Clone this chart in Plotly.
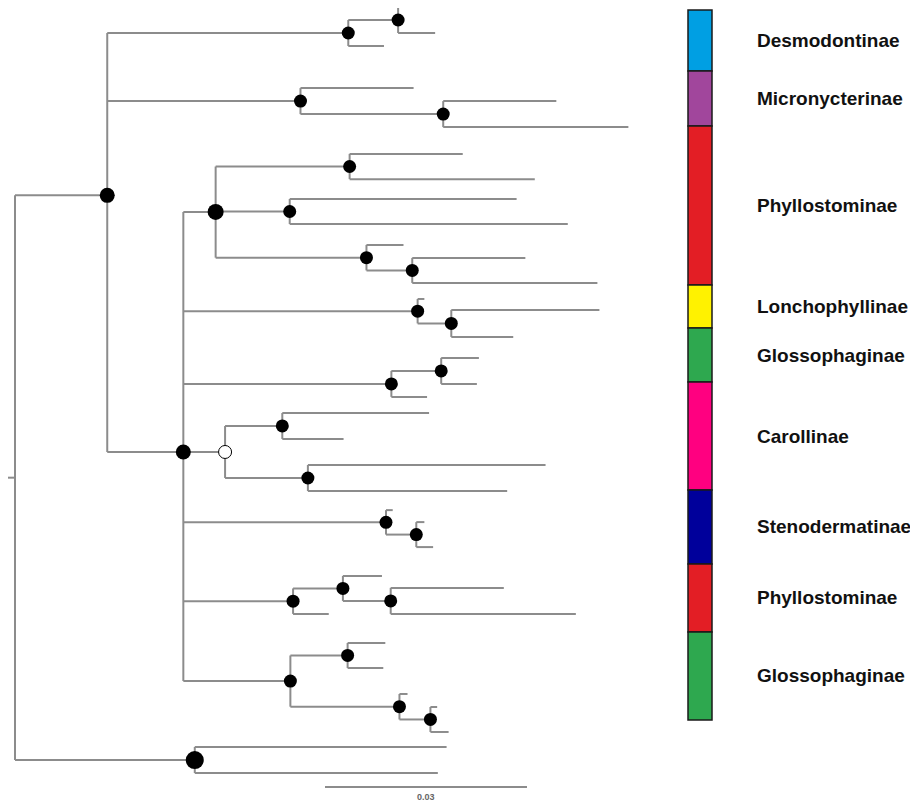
import plotly.graph_objects as go

# ---------------- data ----------------
# tree topology with branch lengths (substitutions / site)
edge_parent = ["R", "R", "N1", "N1", "N1", "D", "D2", "D2", "D", "M", "M", "M2", "M2",
               "B", "P", "Pa", "Pa", "P", "Pb", "Pb", "P", "Pc", "Pc", "Pc2", "Pc2",
               "B", "L", "L", "L2", "L2", "B", "G", "Ga", "Ga", "G",
               "B", "C", "Ca", "Ca", "C", "Cb", "Cb",
               "B", "S", "S", "S2", "S2",
               "B", "P2", "P2a", "P2a", "P2b", "P2b", "P2",
               "B", "G2", "G2a", "G2a", "G2", "G2b", "G2b", "G2c", "G2c",
               "OG", "OG"]
edge_child = ["N1", "OG", "D", "M", "B", "D2", "t1", "t2", "t3", "t4", "M2", "t5", "t6",
              "P", "Pa", "t7", "t8", "Pb", "t9", "t10", "Pc", "t11", "Pc2", "t12", "t13",
              "L", "t14", "L2", "t15", "t16", "G", "Ga", "t17", "t18", "t19",
              "C", "Ca", "t20", "t21", "Cb", "t22", "t23",
              "S", "t24", "S2", "t25", "t26",
              "P2", "P2a", "t27", "P2b", "t28", "t29", "t30",
              "G2", "G2a", "t31", "t32", "G2b", "t33", "G2c", "t34", "t35",
              "t36", "t37"]
edge_length = [0.0137, 0.0267, 0.0358, 0.0287, 0.0113, 0.0074, 0.0058, 0.0055, 0.0053, 0.0168, 0.0212, 0.0168, 0.0275,
               0.0048, 0.0199, 0.0168, 0.0275, 0.0110, 0.0337, 0.0413, 0.0224, 0.0055, 0.0068, 0.0168, 0.0275,
               0.0348, 0.0010, 0.0050, 0.0220, 0.0092, 0.0309, 0.0074, 0.0056, 0.0053, 0.0053,
               0.0062, 0.0085, 0.0218, 0.0091, 0.0123, 0.0353, 0.0296,
               0.0301, 0.0010, 0.0045, 0.0012, 0.0025,
               0.0163, 0.0074, 0.0058, 0.0071, 0.0168, 0.0275, 0.0053,
               0.0159, 0.0085, 0.0056, 0.0053, 0.0162, 0.0012, 0.0046, 0.0010, 0.0027,
               0.0374, 0.0361]
root_edge = 0.0016

# tip order (row index on the vertical axis)
tip_names = ["t%d" % i for i in range(1, 38)]
tip_rows = [0.00, 1.02, 1.53, 3.18, 3.69, 4.71, 5.76, 6.75, 7.53, 8.51, 9.33, 9.84, 10.82,
            11.45, 11.88, 12.94, 13.76, 14.78, 15.29, 15.92, 16.94, 17.96, 18.98,
            19.73, 20.20, 21.18, 22.31, 22.78, 23.80, 23.80, 24.94, 25.92, 26.94,
            27.45, 28.43, 29.02, 30.04]

# supported nodes (filled) and unsupported node (open)
filled_nodes = ["N1", "OG", "D", "D2", "M", "M2", "B", "P", "Pa", "Pb", "Pc", "Pc2",
                "L", "L2", "G", "Ga", "Ca", "Cb", "S", "S2", "P2", "P2a", "P2b",
                "G2", "G2a", "G2b", "G2c"]
open_nodes = ["C"]

# subfamily colour strip
group_names = ["Desmodontinae", "Micronycterinae", "Phyllostominae", "Lonchophyllinae",
               "Glossophaginae", "Carollinae", "Stenodermatinae", "Phyllostominae",
               "Glossophaginae"]
group_start = [0.12, 2.51, 4.67, 10.90, 12.59, 14.71, 18.94, 21.84, 24.51]
group_end = [2.51, 4.67, 10.90, 12.59, 14.71, 18.94, 21.84, 24.51, 27.96]
group_colors = ["#009FE3", "#A1469C", "#E31E25", "#FFF200", "#2EA84F",
                "#FF0080", "#00009B", "#E31E25", "#2EA84F"]

scale_length = 0.03
scale_label = "0.03"

# ---------------- layout constants ----------------
PAGE_OFF = 8          # default body margin of the html page
W, H = 918 - PAGE_OFF, 804 - PAGE_OFF
PX_PER_UNIT = 6733.0
ROW_PX = 25.5
X_RANGE = [(PAGE_OFF - 15) / PX_PER_UNIT, (918 - 15) / PX_PER_UNIT]
Y_RANGE = [(804 - 7) / ROW_PX, (PAGE_OFF - 7) / ROW_PX]
BAR_X0, BAR_X1 = 673 / PX_PER_UNIT, 697 / PX_PER_UNIT
LABEL_X = 740 / PX_PER_UNIT
SCALE_X0 = 310 / PX_PER_UNIT
SCALE_ROW = 780 / ROW_PX
SCALE_LABEL_ROW = 790 / ROW_PX
LINE_COLOR = "#8c8c8c"
LINE_W = 2
big_nodes = {"N1": 15, "B": 15, "P": 16, "OG": 18}

# ---------------- tree layout ----------------
children = {}
blen = {}
for p, c, l in zip(edge_parent, edge_child, edge_length):
    children.setdefault(p, []).append(c)
    blen[c] = l

depth = {"R": 0.0}


def set_depth(n):
    for c in children.get(n, []):
        depth[c] = depth[n] + blen[c]
        set_depth(c)


set_depth("R")

row = dict(zip(tip_names, tip_rows))


def set_row(n):
    if n in row:
        return row[n]
    ys = [set_row(c) for c in children[n]]
    row[n] = sum(ys) / len(ys)
    return row[n]


set_row("R")

xs, ys = [], []
# root stub
xs += [-root_edge, 0, None]
ys += [row["R"], row["R"], None]
for n, kids in children.items():
    kr = [row[c] for c in kids]
    xs += [depth[n], depth[n], None]
    ys += [min(kr), max(kr), None]
    for c in kids:
        xs += [depth[n], depth[c], None]
        ys += [row[c], row[c], None]

fig = go.Figure()
fig.add_trace(go.Scatter(x=xs, y=ys, mode="lines",
                         line=dict(color=LINE_COLOR, width=LINE_W),
                         hoverinfo="skip", showlegend=False))

fig.add_trace(go.Scatter(
    x=[depth[n] for n in filled_nodes], y=[row[n] for n in filled_nodes],
    mode="markers",
    marker=dict(color="black", opacity=1,
                size=[big_nodes.get(n, 13) for n in filled_nodes],
                line=dict(width=0)),
    hoverinfo="skip", showlegend=False))
fig.add_trace(go.Scatter(
    x=[depth[n] for n in open_nodes], y=[row[n] for n in open_nodes],
    mode="markers",
    marker=dict(color="white", opacity=1, size=13, line=dict(color="black", width=1)),
    hoverinfo="skip", showlegend=False))

# colour strip and labels
for name, y0, y1, col in zip(group_names, group_start, group_end, group_colors):
    fig.add_shape(type="rect", x0=BAR_X0, x1=BAR_X1, y0=y0, y1=y1,
                  xref="x", yref="y", fillcolor=col,
                  line=dict(color="#1a1a1a", width=1.5), layer="above")
    fig.add_annotation(x=LABEL_X, y=(y0 + y1) / 2, xref="x", yref="y",
                       text="<b>%s</b>" % name, showarrow=False, xanchor="left",
                       yanchor="middle",
                       font=dict(family="Liberation Sans, Arial", size=19, color="#111111"))

# scale bar
fig.add_trace(go.Scatter(x=[SCALE_X0, SCALE_X0 + scale_length], y=[SCALE_ROW, SCALE_ROW],
                         mode="lines", line=dict(color=LINE_COLOR, width=LINE_W),
                         hoverinfo="skip", showlegend=False))
fig.add_annotation(x=SCALE_X0 + scale_length / 2, y=SCALE_LABEL_ROW, xref="x", yref="y",
                   text="<b>%s</b>" % scale_label, showarrow=False, yanchor="middle",
                   font=dict(family="Liberation Sans, Arial", size=9, color="#666666"))

fig.update_layout(
    width=W, height=H,
    margin=dict(l=0, r=0, t=0, b=0),
    paper_bgcolor="white", plot_bgcolor="white",
    xaxis=dict(range=X_RANGE, visible=False, fixedrange=True),
    yaxis=dict(range=Y_RANGE, visible=False, fixedrange=True),
)

fig.write_html("out.html")
